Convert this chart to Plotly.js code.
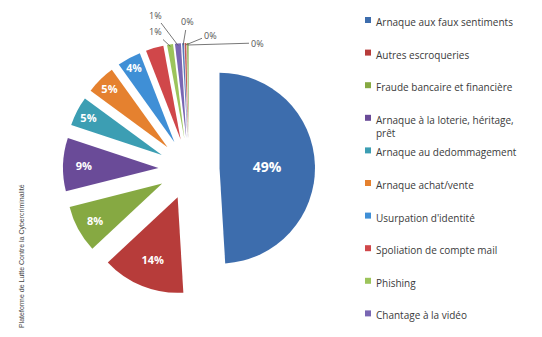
<!DOCTYPE html>
<html><head><meta charset="utf-8">
<script src="https://cdn.plot.ly/plotly-3.0.1.min.js"></script>
<style>html,body{margin:0;padding:0;background:#fff}#chart{width:542px;height:337px}</style>
</head><body><div id="chart"></div>
<script>
// ---- data ----
const categories = [
  "Arnaque aux faux sentiments",
  "Autres escroqueries",
  "Fraude bancaire et financière",
  "Arnaque à la loterie, héritage,<br>prêt",
  "Arnaque au dedommagement",
  "Arnaque achat/vente",
  "Usurpation d'identité",
  "Spoliation de compte mail",
  "Phishing",
  "Chantage à la vidéo",
  "Piratage de compte",
  "Sextorsion",
  "Autres"
];
const shares = [49, 14, 8, 9, 5, 5, 4, 3, 1, 1, 0.3, 0.3, 0.3];
const legendCount = 10;
const sourceNote = "Plateforme de Lutte Contre la Cybercriminalité";

// ---- styles / layout ----
const sliceColors = ["#3D6DAD","#B73C3A","#86A942","#6A4B98","#3C9EB3","#E5812F",
                     "#3F8FD6","#D0474A","#9CC45B","#7966B3","#5B79B8","#C25A58","#9AB863"];
const textPos = categories.map((c, i) => i < 7 ? "inside" : "none");
const insideSizes = categories.map((c, i) => i === 0 ? 14 : 11);
// pixel positions of the small outside labels (layout only), for slices 8..12
const outsideLabelPos = {8: [155, 32], 9: [155, 15], 10: [187, 22], 11: [210, 35], 12: [257, 43]};

const W = 542, H = 337;
const PULL = 0.32;
const dom = {x: [0.1125, 0.5849], y: [0.1246, 0.8724]};

const trace = {
  type: "pie",
  labels: categories,
  values: shares,
  sort: false,
  direction: "clockwise",
  rotation: 0,
  pull: PULL,
  marker: {colors: sliceColors, line: {width: 0}},
  texttemplate: "%{percent:.0%}",
  textposition: textPos,
  insidetextorientation: "horizontal",
  insidetextfont: {color: "#ffffff", size: insideSizes, family: "Open Sans, Arial, sans-serif", weight: "bold"},
  showlegend: false,
  hoverinfo: "label+percent",
  domain: dom
};

const annotations = [];
const shapes = [];
for (let i = 0; i < legendCount; i++) {
  const yc = 20 + i * 32.6;
  shapes.push({
    type: "rect", xref: "paper", yref: "paper",
    x0: 365 / W, x1: 371 / W, y0: 1 - (yc + 3) / H, y1: 1 - (yc - 3) / H,
    fillcolor: sliceColors[i], line: {width: 0}
  });
  annotations.push({
    xref: "paper", yref: "paper", x: 374 / W, y: 1 - (yc - 7) / H,
    xanchor: "left", yanchor: "top", align: "left", showarrow: false,
    text: categories[i],
    font: {size: 10, color: "#3a3a3a", family: "Open Sans, Arial, sans-serif"}
  });
}

// leader-line labels for the tiny slices: the arrow tip is derived from the data
// (cumulative share -> angle) and the pie's domain geometry
const total = shares.reduce((a, b) => a + b, 0);
const pxW = (dom.x[1] - dom.x[0]) * W, pxH = (dom.y[1] - dom.y[0]) * H;
const cx = (dom.x[0] + dom.x[1]) / 2 * W;
const cy = H - (dom.y[0] + dom.y[1]) / 2 * H;
const rad = Math.min(pxW, pxH) / 2 / (1 + PULL);
let cum = 0;
shares.forEach((v, i) => {
  const mid = (cum + v / 2) / total * 2 * Math.PI;
  cum += v;
  if (!(i in outsideLabelPos)) return;
  const R = rad * (1 + PULL) - 2;
  const tx = cx + R * Math.sin(mid), ty = cy - R * Math.cos(mid);
  const pct = Math.round(v / total * 100) + "%";
  const [lx, ly] = outsideLabelPos[i];
  annotations.push({
    xref: "paper", yref: "paper", x: tx / W, y: 1 - ty / H,
    ax: lx - tx, ay: ly - ty, axref: "pixel", ayref: "pixel",
    showarrow: true, arrowhead: 0, arrowwidth: 0.8, arrowcolor: "#555555",
    text: pct, font: {size: 9, color: "#555555", family: "Open Sans, Arial, sans-serif"}
  });
});

annotations.push({
  xref: "paper", yref: "paper", x: 22 / W, y: 1 - 256 / H,
  xanchor: "center", yanchor: "middle", textangle: -90, showarrow: false,
  text: sourceNote,
  font: {size: 7, color: "#444444", family: "Liberation Sans, Arial, sans-serif"}
});

const layout = {
  width: W, height: H,
  margin: {l: 0, r: 0, t: 0, b: 0},
  paper_bgcolor: "#ffffff",
  plot_bgcolor: "#ffffff",
  showlegend: false,
  annotations: annotations,
  shapes: shapes
};
Plotly.newPlot("chart", [trace], layout, {displayModeBar: false, staticPlot: true});
</script>
</body></html>
